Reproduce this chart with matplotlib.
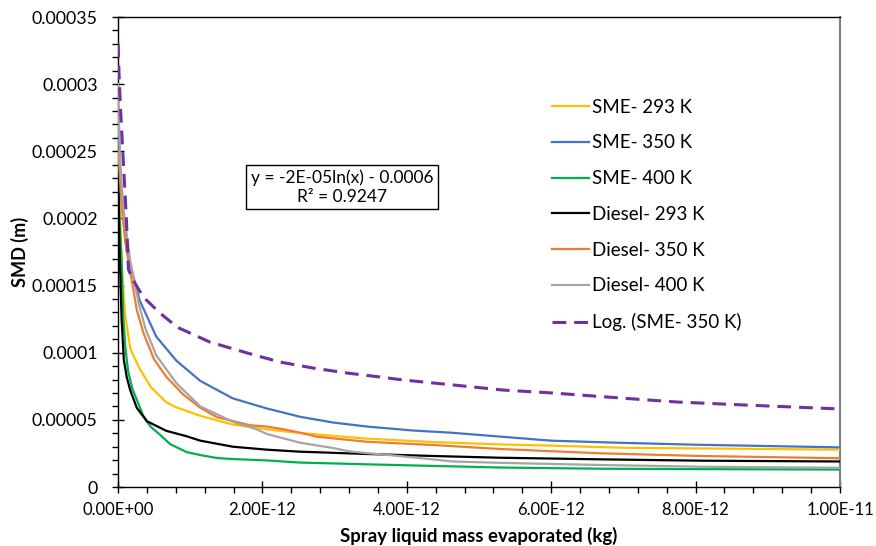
import numpy as np
import matplotlib
matplotlib.use('Agg')
import matplotlib.pyplot as plt
from matplotlib.ticker import MultipleLocator, FuncFormatter

plt.rcParams['font.family'] = ['Lato', 'DejaVu Sans']

# x values in units of 1e-12 kg, y values in units of 1e-5 m
sme293_x = [0.005, 0.05, 0.1, 0.17, 0.3, 0.46, 0.67, 0.8, 1.14, 1.59, 2.06, 2.52, 3.45, 4.36, 5.3, 6.0, 7.0, 8.5, 10.0]
sme293_y = [24, 16.5, 12.8, 10.3, 8.8, 7.4, 6.3, 5.95, 5.3, 4.65, 4.3, 4.02, 3.6, 3.35, 3.17, 3.08, 2.92, 2.85, 2.78]

sme350_x = [0.005, 0.05, 0.12, 0.3, 0.53, 0.81, 1.14, 1.59, 2.06, 2.52, 2.98, 3.45, 4.1, 4.6, 5.3, 6.0, 6.9, 8.0, 9.0, 10.0]
sme350_y = [27, 21.5, 17.6, 13.9, 11.2, 9.4, 7.9, 6.6, 5.85, 5.23, 4.8, 4.5, 4.2, 4.05, 3.75, 3.45, 3.3, 3.15, 3.05, 2.95]

sme400_x = [0.0, 0.02, 0.05, 0.07, 0.1, 0.14, 0.2, 0.26, 0.35, 0.45, 0.58, 0.72, 0.95, 1.14, 1.37, 1.59, 2.06, 2.52, 3.44, 5.29, 6.68, 8.06, 10.0]
sme400_y = [24, 20, 17.0, 13.0, 10.5, 8.6, 7.3, 6.5, 5.3, 4.5, 3.9, 3.2, 2.6, 2.38, 2.16, 2.08, 1.98, 1.82, 1.69, 1.45, 1.36, 1.33, 1.3]

dsl293_x = [0.0, 0.02, 0.05, 0.08, 0.12, 0.17, 0.26, 0.4, 0.67, 0.95, 1.14, 1.59, 2.06, 2.52, 3.44, 4.36, 5.29, 6.68, 8.06, 10.0]
dsl293_y = [25, 18, 12.5, 9.5, 8.2, 7.2, 5.9, 4.9, 4.18, 3.78, 3.45, 3.0, 2.78, 2.63, 2.46, 2.31, 2.18, 2.06, 1.96, 1.9]

dsl350_x = [0.005, 0.05, 0.1, 0.17, 0.26, 0.35, 0.5, 0.67, 0.9, 1.14, 1.37, 1.6, 1.83, 2.06, 2.29, 2.52, 2.75, 3.44, 4.36, 5.29, 6.68, 8.06, 10.0]
dsl350_y = [25, 21, 18.3, 16.0, 13.2, 11.5, 9.5, 8.2, 6.9, 5.9, 5.2, 4.9, 4.6, 4.5, 4.3, 4.05, 3.75, 3.37, 3.13, 2.83, 2.51, 2.31, 2.14]

dsl400_x = [0.0, 0.03, 0.08, 0.17, 0.29, 0.38, 0.53, 0.81, 1.14, 1.59, 1.92, 2.06, 2.52, 2.98, 3.21, 3.5, 3.91, 4.64, 5.29, 6.68, 8.06, 10.0]
dsl400_y = [30, 24, 20.5, 16.8, 13.6, 11.8, 9.8, 7.72, 6.0, 4.86, 4.3, 3.95, 3.3, 2.9, 2.65, 2.5, 2.3, 1.9, 1.8, 1.64, 1.51, 1.43]

# log trendline of SME-350 K, as drawn
trend_x = [0.003, 0.014, 0.028, 0.05, 0.075, 0.1, 0.12, 0.145, 0.2, 0.35, 0.58, 0.82, 1.27, 1.79, 2.24, 2.7, 3.17, 3.63, 3.95, 4.64, 5.33, 6.02, 6.95, 7.74, 8.66, 10.0]
trend_y = [33.0, 30.8, 29.0, 26.6, 24.1, 21.6, 19.5, 16.2, 15.5, 14.15, 12.96, 11.9, 10.8, 9.98, 9.31, 8.86, 8.49, 8.19, 7.97, 7.6, 7.22, 7.0, 6.63, 6.33, 6.11, 5.81]

labels = ['SME- 293 K', 'SME- 350 K', 'SME- 400 K', 'Diesel- 293 K', 'Diesel- 350 K', 'Diesel- 400 K']
colors = ['#FFC000', '#4472C4', '#00B050', '#000000', '#ED7D31', '#A5A5A5']
series = [(sme293_x, sme293_y), (sme350_x, sme350_y), (sme400_x, sme400_y),
          (dsl293_x, dsl293_y), (dsl350_x, dsl350_y), (dsl400_x, dsl400_y)]

xticks = [0, 2e-12, 4e-12, 6e-12, 8e-12, 1e-11]
yticks = [0, 5e-5, 1e-4, 1.5e-4, 2e-4, 2.5e-4, 3e-4, 3.5e-4]

fig = plt.figure(figsize=(8.76, 5.46), dpi=100)
ax = fig.add_axes([118/876, 1-487/546, (840-118)/876, (487-17)/546])

for (xs, ys), lab, c in zip(series, labels, colors):
    ax.plot(np.array(xs)*1e-12, np.array(ys)*1e-5, color=c, lw=1.6, label=lab, zorder=3)
ax.plot(np.array(trend_x)*1e-12, np.array(trend_y)*1e-5, color='#7030A0', lw=2.2,
        linestyle=(0, (4.5, 2.6)), label='Log. (SME- 350 K)', zorder=3)

ax.set_xlim(0, 1e-11)
ax.set_ylim(0, 0.00035)
ax.set_xticks(xticks)
ax.set_yticks(yticks)
ax.xaxis.set_minor_locator(MultipleLocator(4e-13))
ax.yaxis.set_minor_locator(MultipleLocator(1e-5))
ax.xaxis.set_major_formatter(FuncFormatter(lambda v, p: '%.2E' % v))
ax.yaxis.set_major_formatter(FuncFormatter(lambda v, p: ('%.5f' % v).rstrip('0').rstrip('.')))
ax.tick_params(which='major', direction='inout', length=9, width=1, colors='black')
ax.tick_params(which='minor', direction='out', length=4, width=1)
ax.tick_params(axis='y', which='major', pad=10, labelsize=12.8)
ax.tick_params(axis='x', which='major', pad=6, labelsize=12)
for s in ['left', 'bottom', 'top']:
    ax.spines[s].set_color('black')
    ax.spines[s].set_linewidth(1)
ax.spines['right'].set_color('#808080')
ax.spines['right'].set_linewidth(1.5)

ax.set_ylabel('SMD (m)', fontsize=13, fontweight='bold', labelpad=2)
ax.set_xlabel('Spray liquid mass evaporated (kg)', fontsize=13.4, fontweight='bold', labelpad=7)

ax.legend(loc='center left', bbox_to_anchor=(552/876, 1-215/546), bbox_transform=fig.transFigure,
          frameon=False, fontsize=13.5, handlelength=1.95, handletextpad=0.16, labelspacing=1.0,
          borderpad=0, borderaxespad=0)

fig.text(342/876, 1-187/546, 'y = -2E-05ln(x) - 0.0006\nR² = 0.9247', ha='center', va='center',
         multialignment='center', fontsize=12.5, linespacing=1.2,
         bbox=dict(boxstyle='square,pad=0.25', fc='white', ec='black', lw=1))

fig.savefig('out.png', dpi=100)
